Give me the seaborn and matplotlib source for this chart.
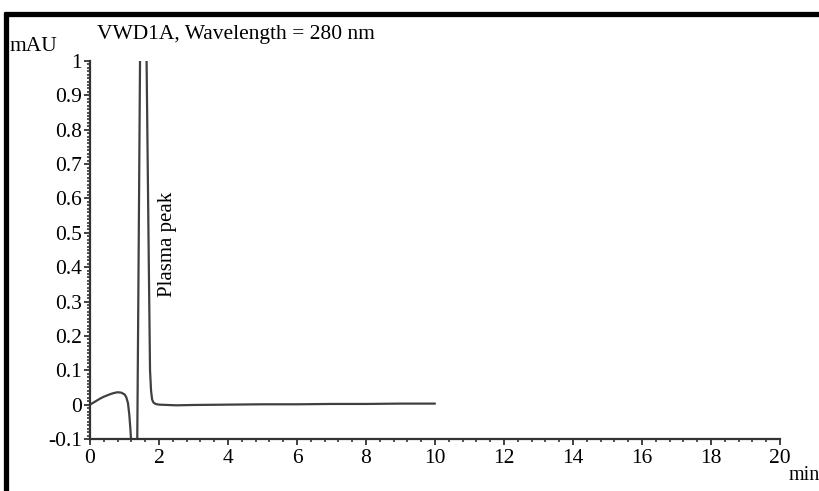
import matplotlib
matplotlib.use("Agg")
import matplotlib.pyplot as plt
import matplotlib.ticker as mticker
from matplotlib.lines import Line2D
import seaborn as sns
import pandas as pd

# ---- data ----
time_min = [0.0, 0.1, 0.2, 0.3, 0.4, 0.5, 0.6, 0.7, 0.8, 0.9, 1.0, 1.05,
            1.1, 1.14, 1.17, 1.2, 1.25, 1.3, 1.35, 1.37, 1.40, 1.45, 1.52,
            1.58, 1.64, 1.70, 1.74, 1.77, 1.80, 1.84, 1.9, 2.0, 2.5, 3.0,
            4.0, 5.0, 6.0, 7.0, 8.0, 9.0, 10.0]
absorbance = [0.0, 0.006, 0.012, 0.018, 0.023, 0.027, 0.031, 0.034, 0.036, 0.035,
              0.030, 0.022, 0.005, -0.030, -0.070, -0.120, -0.180, -0.200, -0.150,
              -0.100, 0.300, 1.000, 2.000, 1.500, 1.000, 0.450, 0.100, 0.040,
              0.015, 0.006, 0.002, 0.000, -0.002, -0.001, 0.000, 0.001, 0.001,
              0.002, 0.002, 0.003, 0.003]

x_ticks = [0, 2, 4, 6, 8, 10, 12, 14, 16, 18, 20]
y_ticks = [-0.1, 0.0, 0.1, 0.2, 0.3, 0.4, 0.5, 0.6, 0.7, 0.8, 0.9, 1.0]
y_tick_labels = ["-0.1", "0", "0.1", "0.2", "0.3", "0.4", "0.5", "0.6", "0.7",
                 "0.8", "0.9", "1"]

title_text = "VWD1A, Wavelength = 280 nm"
y_unit = "mAU"
x_unit = "min"
peak_label = "Plasma peak"
peak_label_pos = (2.25, 0.465)

df = pd.DataFrame({"time": time_min, "abs": absorbance})

sns.set_theme(style="white")
plt.rcParams["font.family"] = ["Liberation Serif", "DejaVu Serif"]
plt.rcParams["axes.unicode_minus"] = False

fig = plt.figure(figsize=(8.19, 4.91), dpi=100)
ax = fig.add_axes([90 / 819, 1 - 439 / 491, (780 - 90) / 819, (439 - 61) / 491])

sns.lineplot(data=df, x="time", y="abs", ax=ax, color="#404040", linewidth=1.6,
             sort=False, estimator=None)

ax.set_xlim(0, 20)
ax.set_ylim(-0.1, 1.0)
ax.set_xlabel("")
ax.set_ylabel("")

ax.xaxis.set_major_locator(mticker.FixedLocator(x_ticks))
ax.xaxis.set_minor_locator(mticker.MultipleLocator(0.4))
ax.yaxis.set_major_locator(mticker.FixedLocator(y_ticks))
ax.yaxis.set_major_formatter(mticker.FixedFormatter(y_tick_labels))
ax.yaxis.set_minor_locator(mticker.MultipleLocator(0.01))

ax.tick_params(axis="both", which="major", direction="out", length=4, width=1.3,
               color="#333333", labelsize=15.5, labelcolor="black", pad=3,
               bottom=True, left=True)
ax.tick_params(axis="both", which="minor", direction="out", length=2, width=1.3,
               color="#444444", bottom=True, left=True)
ax.tick_params(axis="y", which="major", pad=2)

for side in ["top", "right"]:
    ax.spines[side].set_visible(False)
for side in ["left", "bottom"]:
    ax.spines[side].set_color("#333333")
    ax.spines[side].set_linewidth(1.6)

ax.text(peak_label_pos[0], peak_label_pos[1], peak_label, rotation=90,
        ha="center", va="center", fontsize=15, color="black")

fig.text(97 / 819, 1 - 39 / 491, title_text, fontsize=15.5, color="black",
         ha="left", va="baseline")
fig.text(10 / 819, 1 - 51 / 491, y_unit, fontsize=15.5, color="black",
         ha="left", va="baseline")
fig.text(789 / 819, 1 - 480 / 491, x_unit, fontsize=14.5, color="black",
         ha="left", va="baseline")

# scanned frame: thick black line along top and left edges
fig.add_artist(Line2D([4 / 819, 1.0], [1 - 13.5 / 491, 1 - 13.5 / 491],
                      transform=fig.transFigure, color="black", linewidth=3.8,
                      solid_capstyle="butt"))
fig.add_artist(Line2D([5.5 / 819, 5.5 / 819], [0.0, 1 - 11.5 / 491],
                      transform=fig.transFigure, color="black", linewidth=3.8,
                      solid_capstyle="butt"))

fig.savefig("out.png", dpi=100)
